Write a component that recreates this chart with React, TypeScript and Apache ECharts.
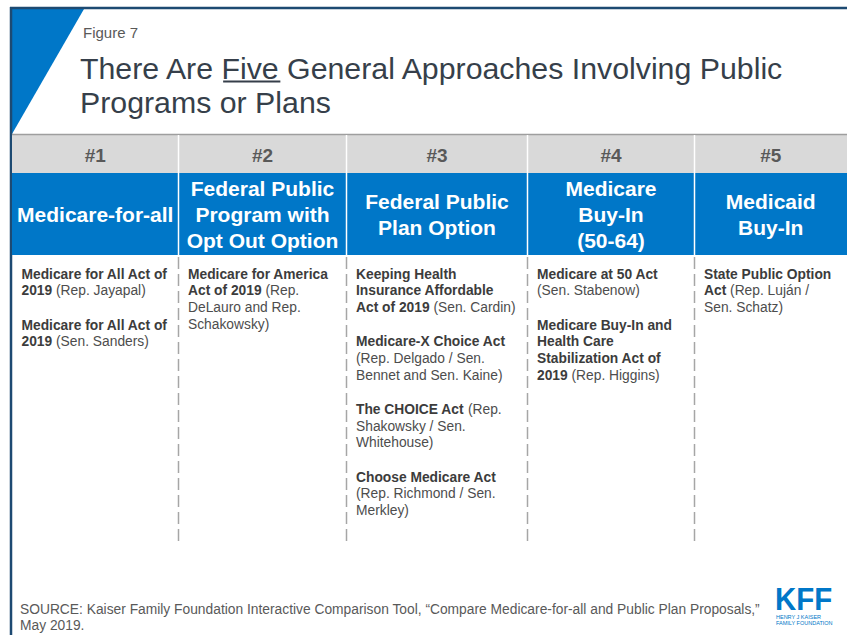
import React, { useEffect, useRef } from 'react';
import * as echarts from 'echarts';

const FONT = "'Liberation Sans', Arial, Helvetica, sans-serif";

const figureLabel = 'Figure 7';
const titleLines = ['There Are Five General Approaches Involving Public', 'Programs or Plans'];
const underlinedWord = 'Five';
const columnNumbers = ['#1', '#2', '#3', '#4', '#5'];
const approachNames: string[][] = [
  ['Medicare-for-all'],
  ['Federal Public', 'Program with', 'Opt Out Option'],
  ['Federal Public', 'Plan Option'],
  ['Medicare', 'Buy-In', '(50-64)'],
  ['Medicaid', 'Buy-In'],
];

// each line: [bold part, regular part]
type Line = [string, string];
const proposals1: Line[][] = [
  [['Medicare for All Act of', ''], ['2019', ' (Rep. Jayapal)']],
  [['Medicare for All Act of', ''], ['2019', ' (Sen. Sanders)']],
];
const proposals2: Line[][] = [
  [['Medicare for America', ''], ['Act of 2019', ' (Rep.'], ['', 'DeLauro and Rep.'], ['', 'Schakowsky)']],
];
const proposals3: Line[][] = [
  [['Keeping Health', ''], ['Insurance Affordable', ''], ['Act of 2019', ' (Sen. Cardin)']],
  [['Medicare-X Choice Act', ''], ['', '(Rep. Delgado / Sen.'], ['', 'Bennet and Sen. Kaine)']],
  [['The CHOICE Act', ' (Rep.'], ['', 'Shakowsky / Sen.'], ['', 'Whitehouse)']],
  [['Choose Medicare Act', ''], ['', '(Rep. Richmond / Sen.'], ['', 'Merkley)']],
];
const proposals4: Line[][] = [
  [['Medicare at 50 Act', ''], ['', '(Sen. Stabenow)']],
  [['Medicare Buy-In and', ''], ['Health Care', ''], ['Stabilization Act of', ''], ['2019', ' (Rep. Higgins)']],
];
const proposals5: Line[][] = [
  [['State Public Option', ''], ['Act', ' (Rep. Luján /'], ['', 'Sen. Schatz)']],
];
const proposals = [proposals1, proposals2, proposals3, proposals4, proposals5];

const sourceLines = [
  'SOURCE: Kaiser Family Foundation Interactive Comparison Tool, \u201cCompare Medicare-for-all and Public Plan Proposals,\u201d',
  'May 2019.',
];
const logoText = 'KFF';
const logoSubLines = ['HENRY J KAISER', 'FAMILY FOUNDATION'];

// layout
const W = 847;
const H = 635;
const colEdges = [12, 178.5, 346.5, 527.5, 694.5, 847];
const BLUE = '#0077c8';
const NAVY = '#1d4a72';
const TITLE_COLOR = '#363f4a';

function measure(text: string, font: string): number {
  const c = document.createElement('canvas').getContext('2d');
  if (!c) return text.length * 15;
  c.font = font;
  return c.measureText(text).width;
}

export default function App() {
  const ref = useRef<HTMLDivElement>(null);
  useEffect(() => {
    document.body.style.margin = '0';
    if (!ref.current) return;
    const chart = echarts.init(ref.current, undefined, { renderer: 'svg' });
    const els: any[] = [];

    els.push({ type: 'rect', shape: { x: 0, y: 0, width: W, height: H }, style: { fill: '#ffffff' } });

    // blue triangle
    els.push({
      type: 'polygon',
      shape: { points: [[12, 9], [84, 9], [12, 134]] },
      style: { fill: BLUE },
    });
    // frame lines
    els.push({ type: 'line', shape: { x1: 10, y1: 8, x2: W, y2: 8 }, style: { stroke: NAVY, lineWidth: 2.5 } });
    els.push({ type: 'line', shape: { x1: 11, y1: 7, x2: 11, y2: H }, style: { stroke: NAVY, lineWidth: 2.5 } });

    // figure label & title
    els.push({
      type: 'text',
      style: { text: figureLabel, x: 83, y: 32, fill: '#595959', fontSize: 15, fontFamily: FONT, verticalAlign: 'middle' },
    });
    const titleFontSize = 30.3;
    titleLines.forEach((t, i) => {
      els.push({
        type: 'text',
        style: {
          text: t, x: 80, y: 68.5 + i * 34, fill: TITLE_COLOR, fontSize: titleFontSize,
          fontFamily: FONT, verticalAlign: 'middle',
        },
      });
    });
    {
      const f = `${titleFontSize}px ${FONT}`;
      const idx = titleLines[0].indexOf(underlinedWord);
      const x0 = 80 + measure(titleLines[0].slice(0, idx), f);
      const x1 = x0 + measure(underlinedWord, f);
      els.push({ type: 'line', shape: { x1: x0, y1: 81.5, x2: x1, y2: 81.5 }, style: { stroke: TITLE_COLOR, lineWidth: 2 } });
    }

    // header bands
    els.push({ type: 'rect', shape: { x: 12, y: 134, width: W - 12, height: 39 }, style: { fill: '#d9d9d9' } });
    els.push({ type: 'line', shape: { x1: 12, y1: 134.5, x2: W, y2: 134.5 }, style: { stroke: '#9e9e9e', lineWidth: 1.5 } });
    els.push({ type: 'rect', shape: { x: 12, y: 173, width: W - 12, height: 82 }, style: { fill: BLUE } });
    for (let i = 1; i < colEdges.length - 1; i++) {
      els.push({ type: 'line', shape: { x1: colEdges[i], y1: 135, x2: colEdges[i], y2: 255 }, style: { stroke: '#ffffff', lineWidth: 1.5 } });
      els.push({
        type: 'line',
        shape: { x1: colEdges[i], y1: 257, x2: colEdges[i], y2: 546 },
        style: { stroke: '#a6a6a6', lineWidth: 1.5, lineDash: [12, 5] },
      });
    }

    // column numbers & names
    columnNumbers.forEach((n, i) => {
      const cx = (colEdges[i] + colEdges[i + 1]) / 2;
      els.push({
        type: 'text',
        style: {
          text: n, x: cx, y: 155, fill: '#595959', fontSize: 19, fontWeight: 'bold',
          fontFamily: FONT, align: 'center', verticalAlign: 'middle',
        },
      });
      const lines = approachNames[i];
      const step = 25.8;
      const startY = 214.5 - ((lines.length - 1) * step) / 2;
      lines.forEach((l, j) => {
        els.push({
          type: 'text',
          style: {
            text: l, x: cx, y: startY + j * step, fill: '#ffffff', fontSize: 21, fontWeight: 'bold',
            fontFamily: FONT, align: 'center', verticalAlign: 'middle',
          },
        });
      });
    });

    // body proposals
    const bodySize = 13.8;
    const lineStep = 16.6;
    const itemGap = 34.4;
    proposals.forEach((items, ci) => {
      const x = colEdges[ci] + 9.5;
      let y = 274.3;
      items.forEach((item, ii) => {
        if (ii > 0) y += itemGap - lineStep;
        item.forEach(([b, r]) => {
          let t = '';
          if (b) t += `{b|${b}}`;
          if (r) t += `{n|${r}}`;
          els.push({
            type: 'text',
            style: {
              text: t, x, y, verticalAlign: 'middle', fontFamily: FONT, fontSize: bodySize,
              rich: {
                b: { fontWeight: 'bold', fontSize: bodySize, fontFamily: FONT, fill: '#3c3c3c', lineHeight: bodySize + 2 },
                n: { fontWeight: 'normal', fontSize: bodySize, fontFamily: FONT, fill: '#4d4d4d', lineHeight: bodySize + 2 },
              },
            },
          });
          y += lineStep;
        });
      });
    });

    // source
    sourceLines.forEach((s, i) => {
      els.push({
        type: 'text',
        style: { text: s, x: 20, y: 609 + i * 16, fill: '#595959', fontSize: 13.8, fontFamily: FONT, verticalAlign: 'middle' },
      });
    });

    // logo
    els.push({
      type: 'text',
      x: 775,
      y: 599.5,
      scaleX: 0.92,
      style: { text: logoText, x: 0, y: 0, fill: BLUE, fontSize: 32, fontWeight: 'bold', fontFamily: FONT, verticalAlign: 'middle' },
    });
    logoSubLines.forEach((s, i) => {
      els.push({
        type: 'text',
        style: { text: s, x: 776, y: 617 + i * 5.5, fill: BLUE, fontSize: 5.5, fontFamily: FONT, verticalAlign: 'middle' },
      });
    });

    chart.setOption({ animation: false, graphic: { elements: els } });
    return () => chart.dispose();
  }, []);
  return <div ref={ref} style={{ width: W, height: H }} />;
}
